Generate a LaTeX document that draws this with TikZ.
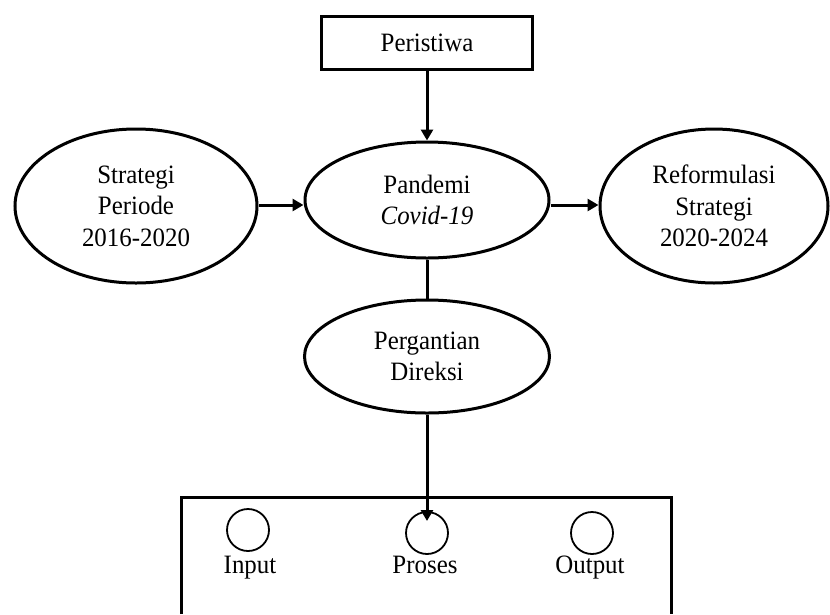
\documentclass[tikz,border=0pt]{standalone}
\usepackage{fontspec}
\setmainfont{Liberation Serif}[FakeStretch=0.94]
\usetikzlibrary{shapes.geometric,arrows.meta}
\begin{document}
\begin{tikzpicture}[x=1pt,y=-1pt,
  txt/.style={font=\fontsize{26.5}{31.5}\selectfont},
  oval/.style={draw,ellipse,line width=3pt,inner sep=0pt,align=center,txt},
  sq/.style={draw,rectangle,line width=3pt,inner sep=0pt,txt},
  dot/.style={draw,circle,line width=1.8pt,minimum size=42pt,inner sep=0pt},
  lbl/.style={txt,inner sep=0pt,anchor=base},
  conn/.style={line width=3pt},
  arr/.style={conn,-{Triangle[width=12pt,length=11pt]}}]
\useasboundingbox (0,0) rectangle (830,614);
\node[sq,minimum width=211pt,minimum height=53pt] (per) at (427,42.5) {Peristiwa};
\node[oval,minimum width=242pt,minimum height=154pt] (strat) at (136,206) {Strategi\\Periode\\2016-2020};
\node[oval,minimum width=244pt,minimum height=116pt] (pand) at (427,200) {Pandemi\\\textit{Covid-19}};
\node[oval,minimum width=228pt,minimum height=154pt] (ref) at (714,206) {Reformulasi\\Strategi\\2020-2024};
\node[oval,minimum width=245pt,minimum height=113pt] (perg) at (427,356.5) {Pergantian\\Direksi};
\draw[conn] (181,614) -- (181,497) -- (671,497) -- (671,614);
\node[dot] (in) at (248,530) {};
\node[dot] (pro) at (427,533) {};
\node[dot] (out) at (592,533) {};
\node[lbl] (inl) at (250,573) {Input};
\node[lbl] (prol) at (425,573) {Proses};
\node[lbl] (outl) at (590,573) {Output};
\coordinate (tip) at (427,521);
\draw[arr] (per.south) -- (pand.north);
\draw[arr] (strat.east |- 0,205) -- (pand.west |- 0,205);
\draw[arr] (pand.east |- 0,205) -- (ref.west |- 0,205);
\draw[conn] (pand.south) -- (perg.north);
\draw[arr] (perg.south) -- (tip);
\end{tikzpicture}
\end{document}
